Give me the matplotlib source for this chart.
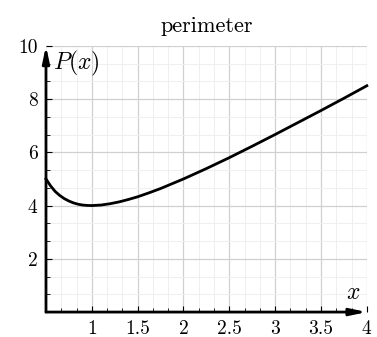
import matplotlib
matplotlib.use('Agg')
import matplotlib.pyplot as plt
from matplotlib.ticker import MultipleLocator

# values
x_vals = [0.5, 0.55, 0.6, 0.65, 0.7, 0.75, 0.8, 0.85, 0.9, 0.95, 1.0, 1.1, 1.2, 1.3,
          1.4, 1.5, 1.625, 1.75, 1.875, 2.0, 2.25, 2.5, 2.75, 3.0, 3.25, 3.5, 3.75, 4.0]
p_vals = [5.0, 4.74, 4.53, 4.38, 4.26, 4.17, 4.1, 4.05, 4.02, 4.005, 4.0, 4.02, 4.07, 4.14,
          4.23, 4.33, 4.48, 4.64, 4.82, 5.0, 5.39, 5.8, 6.23, 6.67, 7.12, 7.57, 8.03, 8.5]
x_ticks = [1, 1.5, 2, 2.5, 3, 3.5, 4]
x_tick_labels = ['1', '1.5', '2', '2.5', '3', '3.5', '4']
y_ticks = [2, 4, 6, 8, 10]

plt.rcParams['font.family'] = 'serif'
plt.rcParams['font.serif'] = ['cmr10', 'DejaVu Serif']
plt.rcParams['mathtext.fontset'] = 'cm'
plt.rcParams['axes.formatter.use_mathtext'] = True

fig = plt.figure(figsize=(3.77, 3.37), dpi=100)
ax = fig.add_axes([0.122, 0.074, 0.851, 0.79])

ax.set_xlim(0.5, 4)
ax.set_ylim(0, 10)

ax.xaxis.set_major_locator(MultipleLocator(0.5))
ax.xaxis.set_minor_locator(MultipleLocator(0.5 / 3))
ax.yaxis.set_major_locator(MultipleLocator(2))
ax.yaxis.set_minor_locator(MultipleLocator(2 / 3))
ax.grid(which='major', color='#d0d0d0', lw=0.9)
ax.grid(which='minor', color='#efefef', lw=0.7)
ax.set_axisbelow(True)

ax.set_xticks(x_ticks)
ax.set_xticklabels(x_tick_labels)
ax.set_yticks(y_ticks)
ax.set_yticklabels([str(v) for v in y_ticks])
ax.tick_params(which='major', direction='in', length=4, width=0.8, labelsize=14, pad=6)
ax.tick_params(which='minor', direction='in', length=3, width=0.6)

for s in ax.spines.values():
    s.set_visible(False)

ax.plot(x_vals, p_vals, color='black', lw=2, zorder=3, clip_on=False)

arrow = dict(arrowstyle='-|>,head_length=0.8,head_width=0.17', lw=2, color='black',
             mutation_scale=12, shrinkA=0, shrinkB=0)
ax.annotate('', xy=(4, 0), xytext=(0.5, 0), arrowprops=arrow, annotation_clip=False, zorder=4)
ax.annotate('', xy=(0.5, 10), xytext=(0.5, 0), arrowprops=arrow, annotation_clip=False, zorder=4)

ax.text(3.93, 0.3, '$x$', fontsize=17, ha='right', va='bottom')
ax.text(0.58, 9.9, '$P(x)$', fontsize=17, ha='left', va='top')
ax.set_title('perimeter', fontsize=16, pad=10)

fig.savefig('out.png', dpi=100)
